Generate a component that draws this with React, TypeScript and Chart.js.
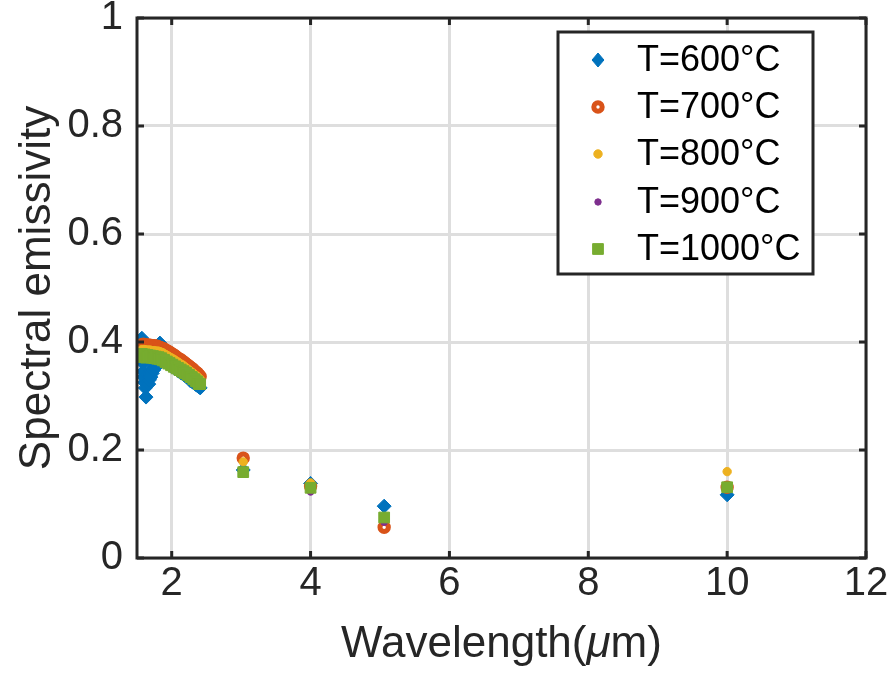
import React, { useEffect, useRef } from "react";
import { Chart, registerables } from "chart.js";

Chart.register(...registerables);

// ---------- data ----------
const seriesLabels = ["T=600°C", "T=700°C", "T=800°C", "T=900°C", "T=1000°C"];
const seriesColors = ["#0072BD", "#D95319", "#EDB120", "#7E2F8E", "#77AC30"];

const xTickValues = [2, 4, 6, 8, 10, 12];
const yTickValues = [0, 0.2, 0.4, 0.6, 0.8, 1];
const yTickLabels = ["0", "0.2", "0.4", "0.6", "0.8", "1"];

// dense spectral region (µm)
const wlDense = [
  1.57, 1.59, 1.61, 1.63, 1.65, 1.67, 1.69, 1.71, 1.73, 1.75, 1.77, 1.79, 1.81, 1.83, 1.85,
  1.87, 1.89, 1.91, 1.93, 1.95, 1.97, 1.99, 2.01, 2.03, 2.05, 2.07, 2.09, 2.11, 2.13, 2.15,
  2.17, 2.19, 2.21, 2.23, 2.25, 2.27, 2.29, 2.31, 2.33, 2.35, 2.37, 2.39, 2.41,
];
const dense700 = [
  0.395, 0.396, 0.395, 0.395, 0.394, 0.394, 0.394, 0.393, 0.393, 0.393, 0.392, 0.392, 0.391, 0.39, 0.389,
  0.388, 0.387, 0.385, 0.384, 0.382, 0.381, 0.379, 0.377, 0.376, 0.374, 0.372, 0.37, 0.368, 0.367, 0.365,
  0.363, 0.361, 0.359, 0.357, 0.355, 0.353, 0.351, 0.349, 0.346, 0.344, 0.342, 0.339, 0.336,
];
const dense800 = [
  0.386, 0.386, 0.386, 0.385, 0.385, 0.385, 0.385, 0.384, 0.384, 0.384, 0.383, 0.383, 0.383, 0.382, 0.381,
  0.38, 0.378, 0.377, 0.375, 0.374, 0.372, 0.371, 0.369, 0.368, 0.366, 0.364, 0.363, 0.361, 0.359, 0.358,
  0.356, 0.354, 0.352, 0.35, 0.348, 0.346, 0.344, 0.342, 0.34, 0.338, 0.336, 0.333, 0.331,
];
const dense900 = [
  0.378, 0.377, 0.377, 0.376, 0.376, 0.375, 0.375, 0.374, 0.374, 0.373, 0.373, 0.372, 0.371, 0.37, 0.369,
  0.368, 0.366, 0.365, 0.363, 0.362, 0.36, 0.359, 0.357, 0.356, 0.354, 0.353, 0.351, 0.35, 0.348, 0.347,
  0.345, 0.344, 0.342, 0.34, 0.339, 0.337, 0.335, 0.333, 0.331, 0.329, 0.327, 0.325, 0.323,
];
const dense1000 = [
  0.378, 0.372, 0.377, 0.371, 0.376, 0.372, 0.375, 0.371, 0.374, 0.37, 0.373, 0.369, 0.372, 0.368, 0.37,
  0.366, 0.367, 0.363, 0.364, 0.36, 0.361, 0.357, 0.358, 0.354, 0.355, 0.351, 0.352, 0.348, 0.349, 0.345,
  0.346, 0.342, 0.343, 0.339, 0.339, 0.335, 0.335, 0.331, 0.331, 0.327, 0.327, 0.322, 0.322,
];

// 600 °C has its own (noisier) sampling in the dense region
const wlBlue = [
  1.56, 1.57, 1.58, 1.58, 1.59, 1.59, 1.6, 1.61, 1.62, 1.63, 1.64, 1.65, 1.66, 1.67, 1.68, 1.69,
  1.7, 1.71, 1.72, 1.73, 1.74, 1.75, 1.76, 1.77, 1.78, 1.79, 1.8, 1.81, 1.83, 1.85, 1.87,
  1.89, 1.91, 1.93, 1.95, 1.97, 1.99, 2.01, 2.03, 2.05, 2.07, 2.09, 2.11, 2.13, 2.15, 2.17,
  2.19, 2.21, 2.23, 2.25, 2.27, 2.29, 2.31, 2.33, 2.35, 2.37, 2.39, 2.41,
];
const dense600 = [
  0.39, 0.407, 0.395, 0.375, 0.36, 0.345, 0.335, 0.325, 0.315, 0.298, 0.33, 0.34, 0.335, 0.322, 0.33, 0.34,
  0.335, 0.345, 0.342, 0.35, 0.348, 0.355, 0.352, 0.358, 0.357, 0.362, 0.362, 0.366, 0.398, 0.37, 0.368,
  0.366, 0.364, 0.362, 0.36, 0.358, 0.356, 0.354, 0.353, 0.351, 0.349, 0.347, 0.345, 0.343, 0.342, 0.34,
  0.338, 0.336, 0.334, 0.332, 0.328, 0.327, 0.325, 0.323, 0.321, 0.319, 0.317, 0.315,
];

// isolated measurement wavelengths (µm)
const wlPoints = [3.03, 4, 5.06, 10];
const pts600 = [0.163, 0.138, 0.096, 0.117];
const pts700 = [0.185, 0.133, 0.057, 0.131];
const pts800 = [0.178, 0.139, 0.072, 0.16];
const pts900 = [0.16, 0.122, 0.066, 0.128];
const pts1000 = [0.159, 0.13, 0.075, 0.131];

// ---------- styling ----------
const FONT = '"Liberation Sans", Arial, Helvetica, sans-serif';
const AXIS_COLOR = "#262626";
const GRID_COLOR = "#dedede";

const toPoints = (xs: number[], ys: number[]) => xs.map((x, i) => ({ x, y: ys[i] }));

type MarkerDef = { style: string; radius: number; border: number; bg: string };
const markers: MarkerDef[] = [
  { style: "rectRot", radius: 7, border: 1, bg: seriesColors[0] },
  { style: "circle", radius: 4.2, border: 5, bg: "#ffffff" },
  { style: "circle", radius: 4.2, border: 1, bg: seriesColors[2] },
  { style: "circle", radius: 3.2, border: 1, bg: seriesColors[3] },
  { style: "rect", radius: 7.6, border: 1, bg: seriesColors[4] },
];

function drawMarker(ctx: CanvasRenderingContext2D, idx: number, x: number, y: number) {
  const m = markers[idx];
  const c = seriesColors[idx];
  ctx.save();
  ctx.fillStyle = m.bg;
  ctx.strokeStyle = c;
  ctx.lineWidth = m.border;
  ctx.beginPath();
  if (m.style === "rectRot") {
    ctx.moveTo(x - m.radius * 0.85, y);
    ctx.lineTo(x, y - m.radius);
    ctx.lineTo(x + m.radius * 0.85, y);
    ctx.lineTo(x, y + m.radius);
    ctx.closePath();
  } else if (m.style === "rect") {
    const h = Math.SQRT1_2 * m.radius;
    ctx.rect(x - h, y - h, 2 * h, 2 * h);
  } else {
    ctx.arc(x, y, m.radius, 0, Math.PI * 2);
  }
  ctx.fill();
  ctx.stroke();
  ctx.restore();
}

const framePlugin = {
  id: "matlabFrame",
  afterDraw(chart: any) {
    const ctx: CanvasRenderingContext2D = chart.ctx;
    const { left, right, top, bottom } = chart.chartArea;
    const xs = chart.scales.x;
    const ys = chart.scales.y;
    ctx.save();
    // inward ticks
    ctx.strokeStyle = AXIS_COLOR;
    ctx.lineWidth = 3;
    const tl = 7;
    ctx.beginPath();
    xTickValues.forEach((v) => {
      const px = xs.getPixelForValue(v);
      ctx.moveTo(px, bottom);
      ctx.lineTo(px, bottom - tl);
      ctx.moveTo(px, top);
      ctx.lineTo(px, top + tl);
    });
    yTickValues.forEach((v) => {
      const py = ys.getPixelForValue(v);
      ctx.moveTo(left, py);
      ctx.lineTo(left + tl, py);
      ctx.moveTo(right, py);
      ctx.lineTo(right - tl, py);
    });
    ctx.stroke();
    // box
    ctx.strokeRect(left, top, right - left, bottom - top);

    // axis titles
    ctx.fillStyle = AXIS_COLOR;
    ctx.textBaseline = "middle";
    // x title with italic mu
    const p1 = "Wavelength(";
    const p2 = "\u03BC";
    const p3 = "m)";
    ctx.font = `44px ${FONT}`;
    const w1 = ctx.measureText(p1).width;
    const w3 = ctx.measureText(p3).width;
    ctx.font = `italic 44px ${FONT}`;
    const w2 = ctx.measureText(p2).width;
    const total = w1 + w2 + w3;
    let cx = (left + right) / 2 - total / 2;
    const ty = 645;
    ctx.textAlign = "left";
    ctx.font = `44px ${FONT}`;
    ctx.fillText(p1, cx, ty);
    cx += w1;
    ctx.font = `italic 44px ${FONT}`;
    ctx.fillText(p2, cx, ty);
    cx += w2;
    ctx.font = `44px ${FONT}`;
    ctx.fillText(p3, cx, ty);

    ctx.textAlign = "center";
    ctx.save();
    ctx.translate(38, (top + bottom) / 2);
    ctx.rotate(-Math.PI / 2);
    ctx.fillText("Spectral emissivity", 0, 0);
    ctx.restore();

    // legend
    const lx = 558, ly = 32, lw = 255, lh = 242;
    ctx.fillStyle = "#ffffff";
    ctx.fillRect(lx, ly, lw, lh);
    ctx.strokeStyle = AXIS_COLOR;
    ctx.lineWidth = 3;
    ctx.strokeRect(lx, ly, lw, lh);
    const rows = [60, 107, 154, 202, 249];
    ctx.font = `36px ${FONT}`;
    ctx.textAlign = "left";
    ctx.textBaseline = "middle";
    seriesLabels.forEach((lab, i) => {
      drawMarker(ctx, i, 598, rows[i]);
      ctx.fillStyle = "#000000";
      ctx.fillText(lab, 637, rows[i] + 1);
    });
    ctx.restore();
  },
};

export default function App() {
  const ref = useRef<HTMLCanvasElement | null>(null);

  useEffect(() => {
    document.body.style.margin = "0";
    const canvas = ref.current;
    if (!canvas) return;

    const denseX = [wlBlue, wlDense, wlDense, wlDense, wlDense];
    const denseY = [dense600, dense700, dense800, dense900, dense1000];
    const ptsY = [pts600, pts700, pts800, pts900, pts1000];

    const datasets = seriesLabels.map((label, i) => ({
      label,
      data: [...toPoints(denseX[i], denseY[i]), ...toPoints(wlPoints, ptsY[i])],
      showLine: false,
      pointStyle: markers[i].style,
      pointRadius: markers[i].radius,
      pointBorderWidth: markers[i].border,
      pointBackgroundColor: markers[i].bg,
      pointBorderColor: seriesColors[i],
      backgroundColor: seriesColors[i],
      borderColor: seriesColors[i],
      order: 5 - i,
      clip: 0,
    }));

    const chart = new Chart(canvas, {
      type: "scatter",
      data: { datasets },
      options: {
        animation: false,
        responsive: false,
        maintainAspectRatio: false,
        events: [],
        layout: { padding: { top: 18, right: 26, left: 0, bottom: 0 } },
        plugins: { legend: { display: false }, tooltip: { enabled: false } },
        scales: {
          x: {
            type: "linear",
            min: 1.5,
            max: 12,
            afterBuildTicks: (s: any) => {
              s.ticks = xTickValues.map((v) => ({ value: v }));
            },
            afterFit: (s: any) => {
              s.height = 123;
              s.paddingLeft = 0;
              s.paddingRight = 0;
            },
            grid: { color: GRID_COLOR, lineWidth: 3, drawTicks: false },
            border: { display: false },
            ticks: {
              font: { family: FONT, size: 40 },
              color: AXIS_COLOR,
              padding: 2,
              maxRotation: 0,
              autoSkip: false,
              callback: (v: any) => String(v),
            },
          },
          y: {
            type: "linear",
            min: 0,
            max: 1,
            afterBuildTicks: (s: any) => {
              s.ticks = yTickValues.map((v) => ({ value: v }));
            },
            afterFit: (s: any) => {
              s.width = 137;
              s.paddingTop = 0;
              s.paddingBottom = 0;
            },
            grid: { color: GRID_COLOR, lineWidth: 3, drawTicks: false },
            border: { display: false },
            ticks: {
              font: { family: FONT, size: 40 },
              color: AXIS_COLOR,
              padding: 14,
              autoSkip: false,
              callback: (v: any) => {
                const k = yTickValues.findIndex((t) => Math.abs(t - Number(v)) < 1e-9);
                return k >= 0 ? yTickLabels[k] : "";
              },
            },
          },
        },
      },
      plugins: [framePlugin],
    } as any);

    return () => chart.destroy();
  }, []);

  return <canvas ref={ref} width={892} height={681} style={{ display: "block" }} />;
}
